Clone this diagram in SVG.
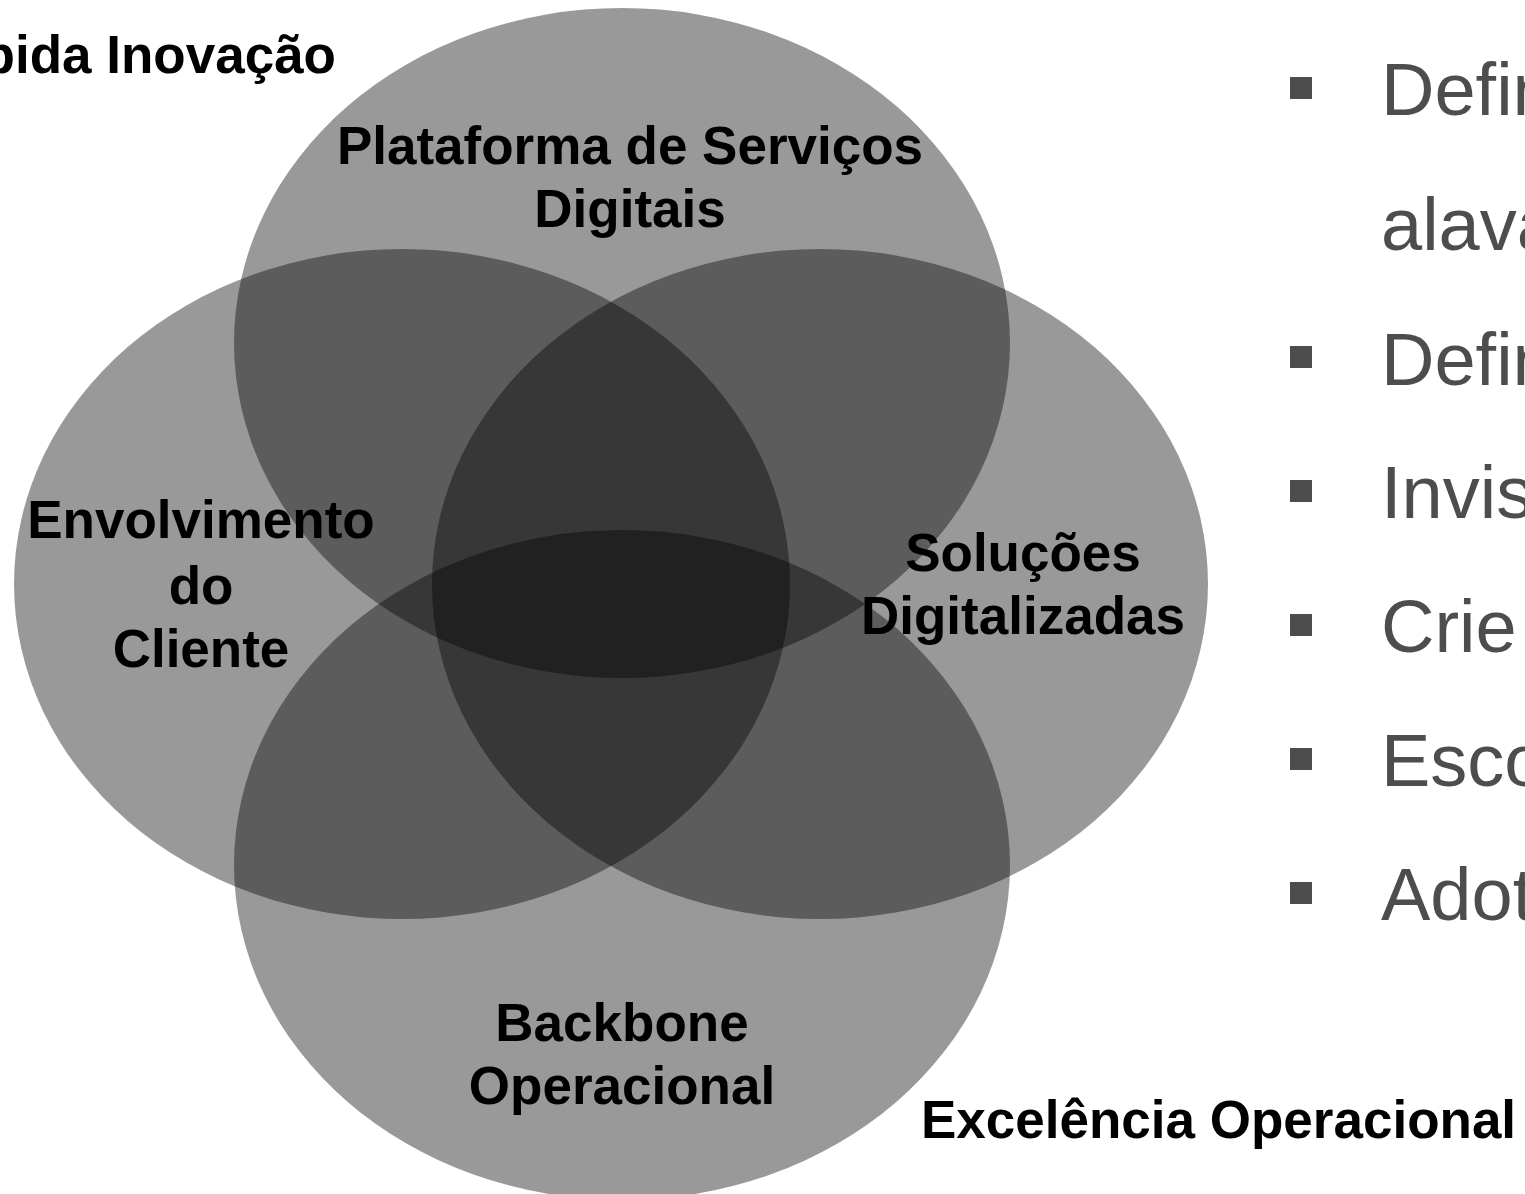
<svg xmlns="http://www.w3.org/2000/svg" width="1525" height="1194" viewBox="0 0 1525 1194">
<style>
.ell{fill:#000;fill-opacity:0.4;stroke:none}
.lbl{font-family:"Liberation Sans",Arial,sans-serif;font-weight:bold;font-size:53px;fill:#000;text-anchor:middle}
.lbl2{font-family:"Liberation Sans",Arial,sans-serif;font-weight:bold;font-size:53px;fill:#000}
.bul{font-family:"Liberation Sans",Arial,sans-serif;font-size:74px;fill:#4d4d4d}
.sq{fill:#4d4d4d}
</style>
<rect width="1525" height="1194" fill="#fff"/>
<g id="connectors"></g>
<g id="node-top"><ellipse class="ell" cx="622" cy="343" rx="388" ry="335"/></g>
<g id="node-left"><ellipse class="ell" cx="402" cy="584" rx="388" ry="335"/></g>
<g id="node-right"><ellipse class="ell" cx="820" cy="584" rx="388" ry="335"/></g>
<g id="node-bottom"><ellipse class="ell" cx="622" cy="865" rx="388" ry="335"/></g>
<g id="label-top"><text class="lbl" x="630" y="164">Plataforma de Serviços</text><text class="lbl" x="630" y="227">Digitais</text></g>
<g id="label-left"><text class="lbl" x="201" y="538">Envolvimento</text><text class="lbl" x="201" y="604">do</text><text class="lbl" x="201" y="667">Cliente</text></g>
<g id="label-right"><text class="lbl" x="1023" y="571">Soluções</text><text class="lbl" x="1023" y="634">Digitalizadas</text></g>
<g id="label-bottom"><text class="lbl" x="622" y="1041">Backbone</text><text class="lbl" x="622" y="1104">Operacional</text></g>
<g id="label-inov"><text class="lbl2" x="336" y="73" text-anchor="end">pida Inovação</text></g>
<g id="label-exc"><text class="lbl2" x="921" y="1138">Excelência Operacional</text></g>
<g id="bullets">
<rect class="sq" x="1290" y="77" width="22" height="22"/><text class="bul" x="1381" y="115">Defin</text>
<text class="bul" x="1381" y="250">alava</text>
<rect class="sq" x="1290" y="346" width="22" height="22"/><text class="bul" x="1381" y="385">Defin</text>
<rect class="sq" x="1290" y="480" width="22" height="22"/><text class="bul" x="1381" y="518">Invis</text>
<rect class="sq" x="1290" y="614" width="22" height="22"/><text class="bul" x="1381" y="652">Crie</text>
<rect class="sq" x="1290" y="748" width="22" height="22"/><text class="bul" x="1381" y="786">Esco</text>
<rect class="sq" x="1290" y="882" width="22" height="22"/><text class="bul" x="1381" y="920">Adot</text>
</g>
</svg>
